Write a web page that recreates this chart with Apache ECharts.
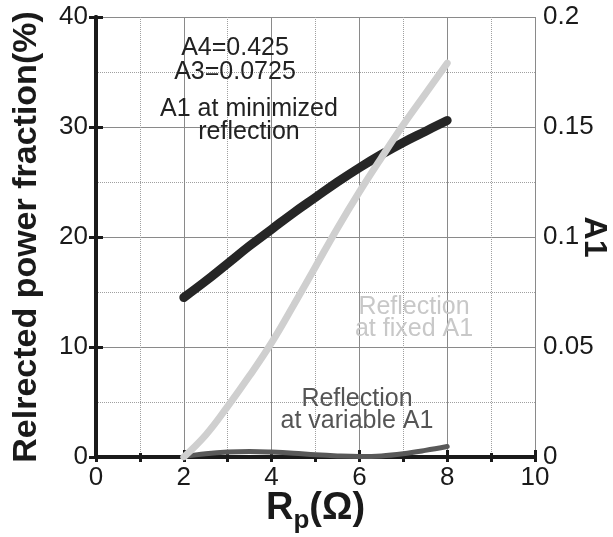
<!DOCTYPE html>
<html>
<head>
<meta charset="utf-8">
<script src="https://cdn.jsdelivr.net/npm/echarts@6/dist/echarts.min.js"></script>
<style>
  html, body { margin: 0; padding: 0; background: #fff; }
  #chart { width: 613px; height: 537px; }
</style>
</head>
<body>
<div id="chart"></div>
<script>
// Rp (ohm) sample points
var rp = [2, 2.5, 3, 3.5, 4, 4.5, 5, 5.5, 6, 6.5, 7, 7.5, 8];
// A1 at minimized reflection (right axis)
var a1Min = [0.0725, 0.080, 0.088, 0.096, 0.1035, 0.111, 0.118, 0.125, 0.1315, 0.1375, 0.143, 0.148, 0.153];
// reflection at fixed A1 (%)
var reflFixed = [0.0, 2.0, 4.6, 7.4, 10.4, 13.8, 17.3, 20.8, 24.1, 27.2, 30.2, 33.0, 35.8];
// reflection at variable A1 (%)
var reflVar = [0.05, 0.3, 0.45, 0.5, 0.45, 0.35, 0.2, 0.1, 0.05, 0.1, 0.3, 0.6, 0.95];

function pairs(xs, ys) {
    return xs.map(function (x, i) { return [x, ys[i]]; });
}

var FONT = '"Liberation Sans", Arial, sans-serif';
var INK = '#1a1a1a';

var chart = echarts.init(document.getElementById('chart'));

var tickLabel = { color: INK, fontSize: 26, fontFamily: FONT };
var thickLine = { lineStyle: { color: INK, width: 4 } };

var option = {
    animation: false,
    grid: { left: 96, top: 17, right: 78, bottom: 80, containLabel: false, outerBoundsMode: 'none' },
    xAxis: [{
        type: 'value', min: 0, max: 10, interval: 2,
        axisLine: thickLine,
        axisTick: { inside: true, length: 7, lineStyle: { color: INK, width: 3 } },
        minorTick: { show: true, splitNumber: 2, length: 4, lineStyle: { color: INK, width: 3 } },
        splitLine: { show: true, lineStyle: { color: '#8a8a8a', width: 1 } },
        minorSplitLine: { show: true, lineStyle: { color: '#a0a0a0', width: 1, type: 'dotted' } },
        axisLabel: Object.assign({ margin: 8 }, tickLabel),
        name: '{b|R}{s|p}{b|(Ω)}',
        nameLocation: 'middle',
        nameGap: 33,
        nameMoveOverlap: false,
        nameTextStyle: {
            rich: {
                b: { fontSize: 38, fontWeight: 'bold', fontFamily: FONT, color: INK, lineHeight: 44, verticalAlign: 'top' },
                s: { fontSize: 26, fontWeight: 'bold', fontFamily: FONT, color: INK, lineHeight: 26, verticalAlign: 'bottom' }
            }
        }
    }, {
        type: 'value', position: 'top', min: 0, max: 10, interval: 1,
        axisLine: thickLine,
        axisTick: { inside: true, length: 5, lineStyle: { color: INK, width: 3 } },
        axisLabel: { show: false },
        splitLine: { show: false }
    }],
    yAxis: [{
        type: 'value', min: 0, max: 40, interval: 10,
        axisLine: { show: true, lineStyle: { color: INK, width: 4 } },
        axisTick: { show: true, inside: true, length: 7, lineStyle: { color: INK, width: 3 } },
        minorTick: { show: false, splitNumber: 2 },
        splitLine: { show: true, lineStyle: { color: '#8a8a8a', width: 1 } },
        minorSplitLine: { show: true, lineStyle: { color: '#a0a0a0', width: 1, type: 'dotted' } },
        axisLabel: Object.assign({ margin: 8 }, tickLabel),
        name: 'Relrected power fraction(%)',
        nameLocation: 'middle',
        nameGap: 52,
        nameMoveOverlap: false,
        nameTextStyle: { fontSize: 34, fontWeight: 'bold', fontFamily: FONT, color: INK }
    }, {
        type: 'value', position: 'right', min: 0, max: 0.2, interval: 0.05,
        axisLine: { show: true, lineStyle: { color: INK, width: 4 } },
        axisTick: { show: true, inside: true, length: 7, lineStyle: { color: INK, width: 3 } },
        splitLine: { show: false },
        axisLabel: Object.assign({ margin: 8 }, tickLabel),
        name: 'A1',
        nameLocation: 'middle',
        nameRotate: -90,
        nameGap: 43,
        nameMoveOverlap: false,
        nameTextStyle: { fontSize: 32, fontWeight: 'bold', fontFamily: FONT, color: INK }
    }],
    series: [{
        name: 'A1 at minimized reflection',
        type: 'line', xAxisIndex: 0, yAxisIndex: 1,
        data: pairs(rp, a1Min),
        smooth: 0.4, showSymbol: false, symbol: 'none',
        lineStyle: { color: '#262626', width: 9, cap: 'round' },
        z: 3
    }, {
        name: 'Reflection at variable A1',
        type: 'line', xAxisIndex: 0, yAxisIndex: 0,
        data: pairs(rp, reflVar),
        smooth: 0.4, showSymbol: false, symbol: 'none',
        lineStyle: { color: '#595959', width: 5, cap: 'round' },
        z: 3
    }, {
        name: 'Reflection at fixed A1',
        type: 'line', xAxisIndex: 0, yAxisIndex: 0,
        data: pairs(rp, reflFixed),
        smooth: 0.4, showSymbol: false, symbol: 'none',
        lineStyle: { color: '#cfcfcf', width: 7, cap: 'round' },
        z: 4
    }],
    graphic: [
        { type: 'text', x: 235, y: 60, z: 10, style: { text: 'A4=0.425\nA3=0.0725', font: '25px ' + FONT, fill: '#222', align: 'center', verticalAlign: 'middle', lineHeight: 24 } },
        { type: 'text', x: 249, y: 121, z: 10, style: { text: 'A1 at minimized\nreflection', font: '25px ' + FONT, fill: '#222', align: 'center', verticalAlign: 'middle', lineHeight: 23 } },
        { type: 'text', x: 414, y: 318, z: 10, style: { text: 'Reflection\nat fixed A1', font: '25px ' + FONT, fill: '#c8c8c8', align: 'center', verticalAlign: 'middle', lineHeight: 22 } },
        { type: 'text', x: 357, y: 410, z: 10, style: { text: 'Reflection\nat variable A1', font: '25px ' + FONT, fill: '#555', align: 'center', verticalAlign: 'middle', lineHeight: 22 } }
    ]
};

chart.setOption(option);
</script>
</body>
</html>
